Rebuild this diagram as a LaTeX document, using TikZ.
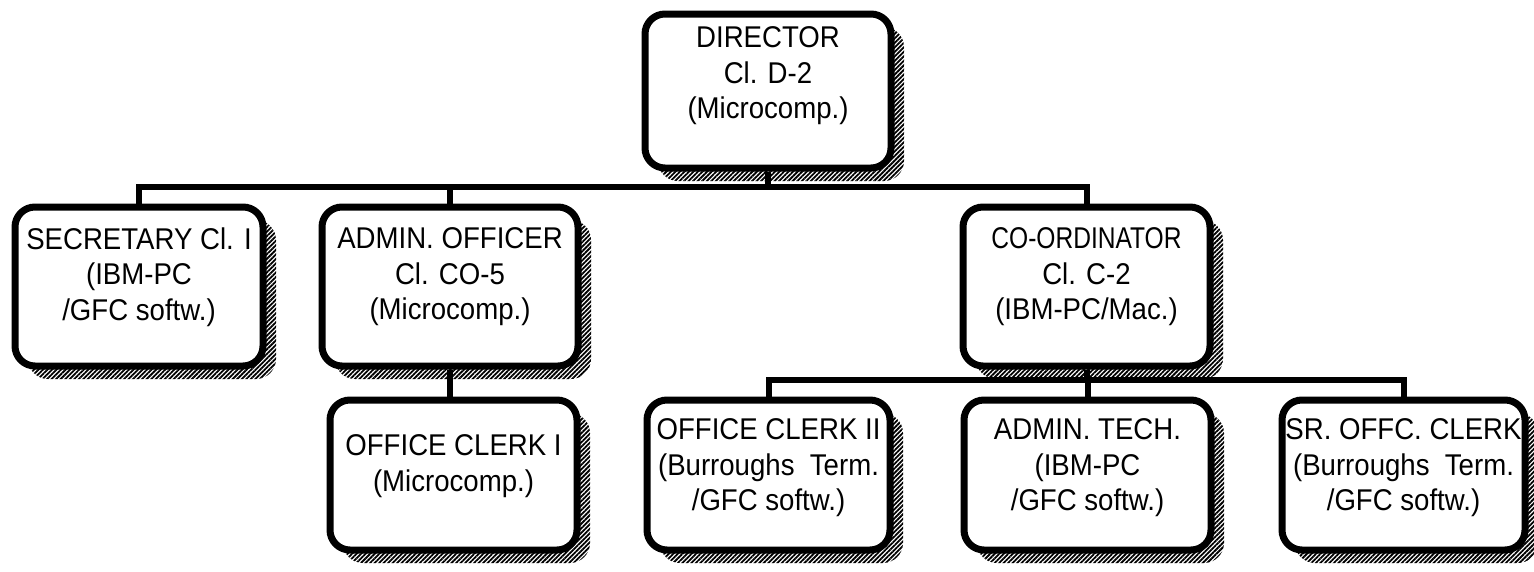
\documentclass[tikz,border=0pt]{standalone}
\usepackage{fontspec}
\setmainfont{Liberation Sans}[FakeStretch=0.92]
\usetikzlibrary{shadows,patterns.meta}
\begin{document}
\begin{tikzpicture}[x=1pt,y=-1pt,
  box/.style={draw=black, line width=7pt, fill=white, rounded corners=20pt, inner sep=0pt,
    general shadow={shadow xshift=13pt, shadow yshift=-13pt,
      pattern={Lines[angle=45,distance=3.2pt,line width=1.8pt]}, pattern color=black}},
  conn/.style={draw=black, line width=6pt, line join=miter},
  lbl/.style={align=center, font=\fontsize{30}{35.5}\selectfont, inner sep=0pt}
]
\useasboundingbox (0,0) rectangle (1534,571);

% boxes
\node[box, minimum width=246pt, minimum height=154pt] (dir) at (768,91) {};
\node[box, minimum width=248pt, minimum height=159pt] (sec) at (139,286.5) {};
\node[box, minimum width=256pt, minimum height=159pt] (adm) at (450,286.5) {};
\node[box, minimum width=247pt, minimum height=159pt] (coo) at (1086.5,286.5) {};
\node[box, minimum width=247pt, minimum height=150pt] (oc1) at (453.5,475) {};
\node[box, minimum width=243pt, minimum height=150pt] (oc2) at (768.5,475) {};
\node[box, minimum width=247pt, minimum height=150pt] (tec) at (1087.5,475) {};
\node[box, minimum width=243pt, minimum height=150pt] (sr) at (1403.5,475) {};

% texts
\node[lbl] (dirt) at (768,76) {DIRECTOR\\Cl. D-2\\(Microcomp.)};
\node[lbl] (sect) at (139,277) {SECRETARY Cl. I\\(IBM-PC\\/GFC softw.)};
\node[lbl] (admt) at (450,277) {ADMIN. OFFICER\\Cl. CO-5\\(Microcomp.)};
\node[lbl] (coot) at (1086.5,277) {\scalebox{0.89}[1]{CO-ORDINATOR}\\Cl. C-2\\(IBM-PC/Mac.)};
\node[lbl] (oc1t) at (453.5,466) {OFFICE CLERK I\\(Microcomp.)};
\node[lbl] (oc2t) at (768.5,468) {OFFICE CLERK II\\(Burroughs~ Term.\\/GFC softw.)};
\node[lbl] (tect) at (1087.5,468) {ADMIN. TECH.\\(IBM-PC\\/GFC softw.)};
\node[lbl] (srt) at (1403.5,468) {SR. OFFC. CLERK\\(Burroughs~ Term.\\/GFC softw.)};

% connectors
\coordinate (bus1) at (768,187);
\coordinate (bus2) at (1087,380);
\draw[conn] (sec.north) |- (bus1) -| (coo.north);
\draw[conn] (dir.south) -- (dir.south |- bus1);
\draw[conn] (adm.north) -- (adm.north |- bus1);
\draw[conn] (adm.south) -- (adm.south |- oc1.north);
\draw[conn] (oc2.north) |- (bus2) -| (sr.north);
\draw[conn] (coo.south) -- (coo.south |- bus2);
\draw[conn] (tec.north) -- (tec.north |- bus2);
\end{tikzpicture}
\end{document}
